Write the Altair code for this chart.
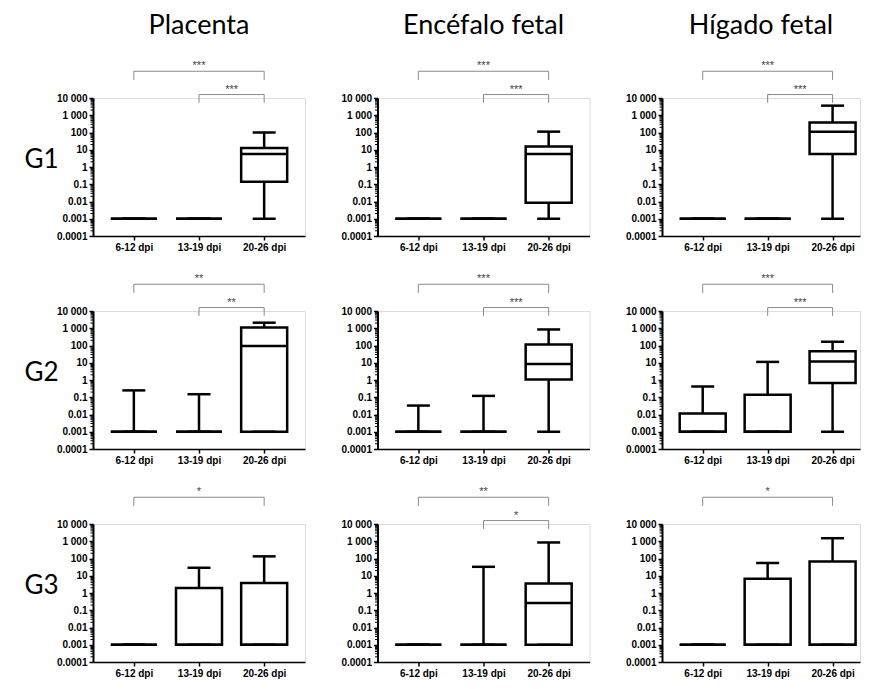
import json
import altair as alt
import pandas as pd

CATEGORIES = ["6-12 dpi", "13-19 dpi", "20-26 dpi"]
TISSUES = ["Placenta", "Encéfalo fetal", "Hígado fetal"]
GROUPS = ["G1", "G2", "G3"]
TICK_VALUES = [0.0001, 0.001, 0.01, 0.1, 1, 10, 100, 1000, 10000]
TICK_LABELS = ["0.0001", "0.001", "0.01", "0.1", "1", "10", "100", "1 000", "10 000"]
MINOR_TICKS = [m * 10.0 ** e for e in range(-4, 4) for m in range(2, 10)]

# five-number summaries per category: [min, q1, median, q3, max]
G1_PLACENTA = [[0.001, 0.001, 0.001, 0.001, 0.001],
               [0.001, 0.001, 0.001, 0.001, 0.001],
               [0.001, 0.14, 5.7, 12.6, 100]]
G1_ENCEFALO = [[0.001, 0.001, 0.001, 0.001, 0.001],
               [0.001, 0.001, 0.001, 0.001, 0.001],
               [0.001, 0.0085, 5.7, 15.5, 112]]
G1_HIGADO = [[0.001, 0.001, 0.001, 0.001, 0.001],
             [0.001, 0.001, 0.001, 0.001, 0.001],
             [0.001, 5.7, 112, 380, 3600]]
G2_PLACENTA = [[0.001, 0.001, 0.001, 0.001, 0.25],
               [0.001, 0.001, 0.001, 0.001, 0.15],
               [0.001, 0.001, 93, 1100, 2100]]
G2_ENCEFALO = [[0.001, 0.001, 0.001, 0.001, 0.033],
               [0.001, 0.001, 0.001, 0.001, 0.12],
               [0.001, 1.07, 8.5, 115, 850]]
G2_HIGADO = [[0.001, 0.001, 0.001, 0.0115, 0.42],
             [0.001, 0.001, 0.001, 0.14, 11.2],
             [0.001, 0.66, 11.7, 46, 165]]
G3_PLACENTA = [[0.001, 0.001, 0.001, 0.001, 0.001],
               [0.001, 0.001, 0.001, 1.95, 29],
               [0.001, 0.001, 0.001, 3.8, 133]]
G3_ENCEFALO = [[0.001, 0.001, 0.001, 0.001, 0.001],
               [0.001, 0.001, 0.001, 0.001, 33],
               [0.001, 0.001, 0.26, 3.6, 850]]
G3_HIGADO = [[0.001, 0.001, 0.001, 0.001, 0.001],
             [0.001, 0.001, 0.001, 6.6, 55],
             [0.001, 0.001, 0.001, 66, 1500]]

# significance: [upper bracket 6-12 vs 20-26, lower bracket 13-19 vs 20-26]
SIG_G1 = [["***", "***"], ["***", "***"], ["***", "***"]]
SIG_G2 = [["**", "**"], ["***", "***"], ["***", "***"]]
SIG_G3 = [["*", ""], ["**", "*"], ["*", ""]]

PANELS = [
    [G1_PLACENTA, G1_ENCEFALO, G1_HIGADO],
    [G2_PLACENTA, G2_ENCEFALO, G2_HIGADO],
    [G3_PLACENTA, G3_ENCEFALO, G3_HIGADO],
]
SIGS = [SIG_G1, SIG_G2, SIG_G3]

# bracket levels (data units above the axis top)
UP_TOP, UP_BOT = 10 ** 5.55, 10 ** 5.05
LO_TOP, LO_BOT = 10 ** 4.2, 10 ** 3.72

W, H = 212, 138
X_LO, X_HI = -0.55, 2.55
STEP = W / (X_HI - X_LO)
W_LAST = 198
X_HI_LAST = X_LO + W_LAST / STEP
LINE = 2.5
TITLE_FONT = "Lato"
TICK_FONT = "Liberation Sans"

yscale = alt.Scale(type="log", domain=[1e-4, 1e4], nice=False)


def x_axis():
    return alt.Axis(values=[0, 1, 2], labelExpr=f"{json.dumps(CATEGORIES)}[datum.value]",
                    title=None, grid=False, tickSize=4, labelPadding=2, labelFontSize=10,
                    labelFontWeight="bold", labelFont=TICK_FONT, labelColor="black",
                    domainColor="black", domainWidth=1.5, tickColor="black", tickWidth=1.5,
                    labelFlush=False, labelBound=False, labelOverlap=False)


def y_axis(row_label):
    kw = dict(values=TICK_VALUES,
              labelExpr=f"{json.dumps(TICK_LABELS)}[round(log(datum.value)/LN10) + 4]",
              grid=False, tickSize=4, labelPadding=2, labelFontSize=10,
              labelFontWeight="bold", labelFont=TICK_FONT, labelColor="black",
              domainColor="black", domainWidth=2, tickColor="black", tickWidth=1.5,
              labelFlush=False, labelBound=False, labelOverlap=False)
    if row_label:
        kw.update(title=row_label, titleAngle=0, titleX=-52, titleY=69, titleAlign="center",
                  titleBaseline="alphabetic", titleFont=TITLE_FONT, titleFontSize=26,
                  titleFontWeight="normal", titleColor="black")
    else:
        kw.update(title=None)
    return alt.Axis(**kw)


def panel(r, c):
    stats = PANELS[r][c]
    df = pd.DataFrame({
        "pos": [0, 1, 2],
        "min": [s[0] for s in stats],
        "q1": [s[1] for s in stats],
        "med": [s[2] for s in stats],
        "q3": [s[3] for s in stats],
        "max": [s[4] for s in stats],
    })
    last = c == 2
    xscale = alt.Scale(domain=[X_LO, X_HI_LAST if last else X_HI], nice=False, zero=False)
    xax = x_axis()
    yax = y_axis(GROUPS[r] if c == 0 else None)
    X = alt.X("pos:Q", scale=xscale, axis=xax)

    def Y(f):
        return alt.Y(f"{f}:Q", scale=yscale, axis=yax)

    base = alt.Chart(df)
    whisker = base.mark_rule(color="black", strokeWidth=LINE).encode(x=X, y=Y("min"), y2="max:Q")
    box = base.mark_bar(fill="white", stroke="black", strokeWidth=LINE, size=46, opacity=1).encode(
        x=X, y=Y("q1"), y2="q3:Q")
    median = base.mark_tick(orient="horizontal", color="black", size=46, thickness=LINE,
                            opacity=1).encode(x=X, y=Y("med"))
    cap_lo = base.mark_tick(orient="horizontal", color="black", size=23, thickness=LINE,
                            opacity=1).encode(x=X, y=Y("min"))
    cap_hi = base.mark_tick(orient="horizontal", color="black", size=23, thickness=LINE,
                            opacity=1).encode(x=X, y=Y("max"))

    minor = alt.Chart(pd.DataFrame({"v": MINOR_TICKS})).mark_rule(
        color="black", strokeWidth=1).encode(
        y=alt.Y("v:Q", scale=yscale, axis=yax), x=alt.value(-2.5), x2=alt.value(0))

    sig = SIGS[r][c]
    rows, texts = [], []
    specs = [(0, 2, UP_TOP, UP_BOT, sig[0]), (1, 2, LO_TOP, LO_BOT, sig[1])]
    for i, (a, b, top, bot, lab) in enumerate(specs):
        if not lab:
            continue
        for o, (xx, yy) in enumerate([(a, bot), (a, top), (b, top), (b, bot)]):
            rows.append({"id": i, "o": o, "bx": xx, "by": yy})
        texts.append({"tx": (a + b) / 2, "ty": top, "lab": lab})
    brackets = alt.Chart(pd.DataFrame(rows)).mark_line(color="#8a8a8a", strokeWidth=1).encode(
        x=alt.X("bx:Q", scale=xscale, axis=xax),
        y=alt.Y("by:Q", scale=yscale, axis=yax),
        detail="id:N", order="o:Q")
    stars = alt.Chart(pd.DataFrame(texts)).mark_text(
        fontSize=11, color="#444444", baseline="alphabetic", dy=-2, font=TICK_FONT).encode(
        x=alt.X("tx:Q", scale=xscale, axis=xax),
        y=alt.Y("ty:Q", scale=yscale, axis=yax),
        text="lab:N")

    ch = alt.layer(whisker, box, median, cap_lo, cap_hi, minor, brackets, stars).properties(
        width=W_LAST if last else W, height=H)
    if r == 0:
        ch = ch.properties(title=alt.TitleParams(
            text=TISSUES[c], font=TITLE_FONT, fontSize=27, fontWeight="normal", color="black",
            anchor="middle", frame="group", offset=-1, baseline="alphabetic"))
    return ch


charts = [panel(r, c) for r in range(3) for c in range(3)]
chart = alt.concat(*charts, columns=3, spacing={"row": 75, "column": 72.5}).properties(
    bounds="flush", padding={"left": 15, "top": 3, "right": 0, "bottom": 0}
).configure_view(stroke=None).configure(background="white")

chart.save("out.html", embed_options={"renderer": "svg", "actions": False})
